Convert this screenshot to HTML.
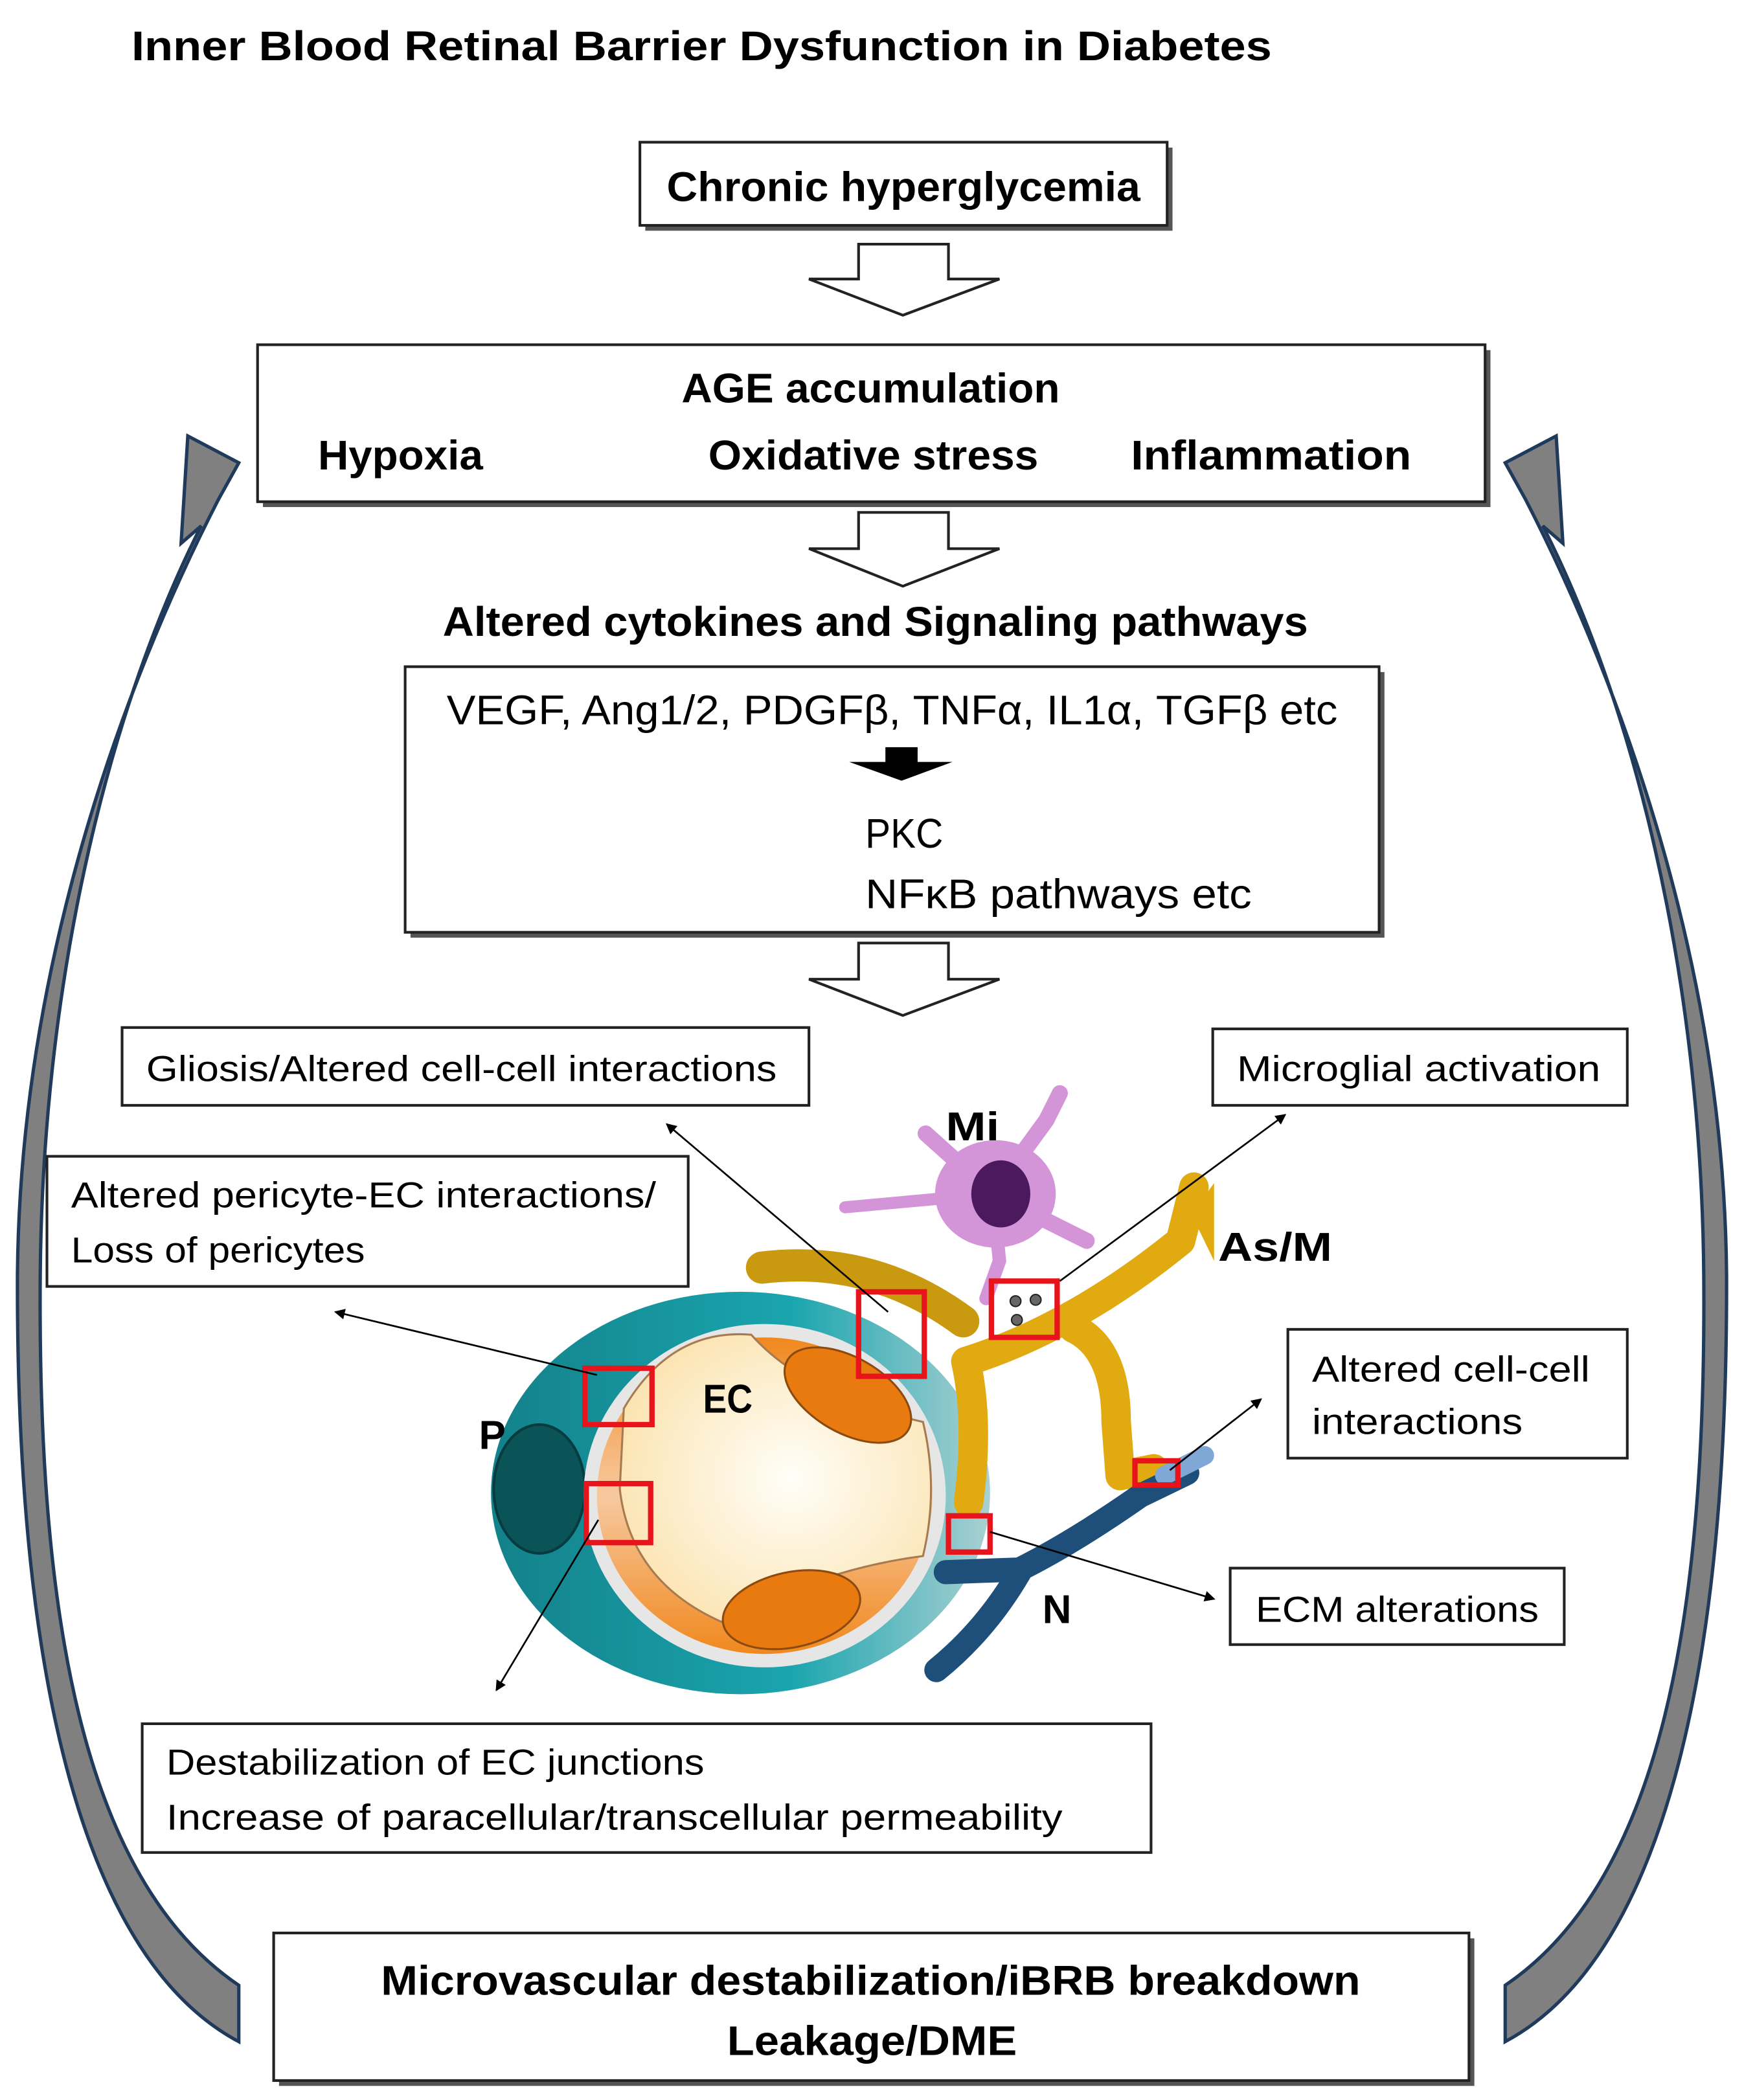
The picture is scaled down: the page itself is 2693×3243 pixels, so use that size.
<!DOCTYPE html>
<html><head><meta charset="utf-8"><style>
html,body{margin:0;padding:0;background:#fff;}
svg{display:block;}
text{font-family:"Liberation Sans",sans-serif;fill:#000;}
.b{font-weight:bold;}
</style></head><body>
<svg width="2693" height="3243" viewBox="0 0 1300 1565.5" xmlns="http://www.w3.org/2000/svg">
<defs>
<marker id="ah" markerWidth="8" markerHeight="8" refX="7" refY="4" orient="auto" markerUnits="userSpaceOnUse"><path d="M0,0 L8,4 L0,8 Z" fill="#000"/></marker>
<radialGradient id="cream" cx="0.55" cy="0.5" r="0.6"><stop offset="0" stop-color="#fffef8"/><stop offset="1" stop-color="#fbe3b0"/></radialGradient>
<linearGradient id="teal" x1="0" y1="0" x2="1" y2="0"><stop offset="0" stop-color="#13818a"/><stop offset="0.6" stop-color="#1aa5ae"/><stop offset="1" stop-color="#a9d0d2"/></linearGradient>
<linearGradient id="or" x1="0" y1="0" x2="0" y2="1"><stop offset="0" stop-color="#f0881e"/><stop offset="0.5" stop-color="#f7c9a0"/><stop offset="1" stop-color="#f0881e"/></linearGradient>
</defs>

<text class="b" x="98" y="45" font-size="31" textLength="850" lengthAdjust="spacingAndGlyphs">Inner Blood Retinal Barrier Dysfunction in Diabetes</text>

<!-- side arrows -->
<path d="M178,1480 C60,1400 28,1200 30,950 C32,720 85,520 150,392 L135,405 L140,325 L178,345 L163,372 C92,510 15,720 13,950 C12,1250 62,1460 178,1522 Z" fill="#808080" stroke="#1f3a5a" stroke-width="2.5"/>
<g transform="translate(1300,0) scale(-1,1)">
<path d="M178,1480 C60,1400 28,1200 30,950 C32,720 85,520 150,392 L135,405 L140,325 L178,345 L163,372 C92,510 15,720 13,950 C12,1250 62,1460 178,1522 Z" fill="#808080" stroke="#1f3a5a" stroke-width="2.5"/>
</g>

<!-- Chronic box -->
<rect x="481" y="110" width="393" height="62" fill="#555"/>
<rect x="477" y="106" width="393" height="62" fill="#fff" stroke="#222" stroke-width="2"/>
<text class="b" x="497" y="150" font-size="31" textLength="353" lengthAdjust="spacingAndGlyphs">Chronic hyperglycemia</text>

<g fill="#fff" stroke="#222" stroke-width="2">
<path d="M640,182 L707,182 L707,208 L745,208 L673,235 L603,208 L640,208 Z"/>
<path d="M640,382 L707,382 L707,409 L745,409 L673,437 L603,409 L640,409 Z"/>
<path d="M640,703 L707,703 L707,730 L745,730 L673,757 L603,730 L640,730 Z"/>
</g>

<rect x="196" y="261" width="915" height="117" fill="#555"/>
<rect x="192" y="257" width="915" height="117" fill="#fff" stroke="#222" stroke-width="2"/>
<text class="b" x="508" y="300" font-size="31" textLength="282" lengthAdjust="spacingAndGlyphs">AGE accumulation</text>
<text class="b" x="237" y="350" font-size="31" textLength="123" lengthAdjust="spacingAndGlyphs">Hypoxia</text>
<text class="b" x="528" y="350" font-size="31" textLength="246" lengthAdjust="spacingAndGlyphs">Oxidative stress</text>
<text class="b" x="843" y="350" font-size="31" textLength="209" lengthAdjust="spacingAndGlyphs">Inflammation</text>

<text class="b" x="330" y="474" font-size="31" textLength="645" lengthAdjust="spacingAndGlyphs">Altered cytokines and Signaling pathways</text>

<rect x="306" y="501" width="726" height="198" fill="#555"/>
<rect x="302" y="497" width="726" height="198" fill="#fff" stroke="#222" stroke-width="2"/>
<text x="333" y="540" font-size="31" textLength="664" lengthAdjust="spacingAndGlyphs">VEGF, Ang1/2, PDGFβ, TNFα, IL1α, TGFβ etc</text>
<path d="M660,557 L684,557 L684,568 L710,568 L672,582 L633,568 L660,568 Z" fill="#000"/>
<text x="645" y="632" font-size="31" textLength="58" lengthAdjust="spacingAndGlyphs">PKC</text>
<text x="645" y="677" font-size="31" textLength="288" lengthAdjust="spacingAndGlyphs">NFκB pathways etc</text>

<g fill="#fff" stroke="#222" stroke-width="2">
<rect x="91" y="766" width="512" height="58"/>
<rect x="904" y="767" width="309" height="57"/>
<rect x="35" y="862" width="478" height="97"/>
<rect x="960" y="991" width="253" height="96"/>
<rect x="917" y="1169" width="249" height="57"/>
<rect x="106" y="1285" width="752" height="96"/>
</g>
<g font-size="27">
<text x="109" y="806" textLength="470" lengthAdjust="spacingAndGlyphs">Gliosis/Altered cell-cell interactions</text>
<text x="922" y="806" textLength="271" lengthAdjust="spacingAndGlyphs">Microglial activation</text>
<text x="53" y="900" textLength="436" lengthAdjust="spacingAndGlyphs">Altered pericyte-EC interactions/</text>
<text x="53" y="941" textLength="219" lengthAdjust="spacingAndGlyphs">Loss of pericytes</text>
<text x="978" y="1030" textLength="207" lengthAdjust="spacingAndGlyphs">Altered cell-cell</text>
<text x="978" y="1069" textLength="157" lengthAdjust="spacingAndGlyphs">interactions</text>
<text x="936" y="1209" textLength="211" lengthAdjust="spacingAndGlyphs">ECM alterations</text>
<text x="124" y="1323" textLength="401" lengthAdjust="spacingAndGlyphs">Destabilization of EC junctions</text>
<text x="124" y="1364" textLength="668" lengthAdjust="spacingAndGlyphs">Increase of paracellular/transcellular permeability</text>
</g>

<!-- vessel drawing -->
<path d="M568,945 Q650,935 718,985" stroke="#c99a10" stroke-width="24" fill="none" stroke-linecap="round"/>
<ellipse cx="552" cy="1113" rx="186" ry="150" fill="url(#teal)"/>
<ellipse cx="402" cy="1110" rx="34" ry="48" fill="#0a5458" stroke="#063c40" stroke-width="2"/>
<ellipse cx="570" cy="1115" rx="135" ry="128" fill="#e6e6e6"/>
<ellipse cx="570" cy="1115" rx="125" ry="118" fill="url(#or)"/>
<path d="M465,1050 Q500,990 560,995 Q600,1040 688,1060 Q700,1110 688,1160 Q610,1170 540,1210 Q470,1180 462,1110 Z" fill="url(#cream)" stroke="#a87a50" stroke-width="1.5"/>
<ellipse cx="632" cy="1040" rx="52" ry="28" transform="rotate(30 632 1040)" fill="#e87a10" stroke="#8a4a10" stroke-width="1.5"/>
<ellipse cx="590" cy="1200" rx="52" ry="28" transform="rotate(-12 590 1200)" fill="#e87a10" stroke="#8a4a10" stroke-width="1.5"/>
<g stroke="#e0aa10" stroke-width="22" fill="none" stroke-linecap="round" stroke-linejoin="round">
<path d="M720,1015 Q730,1060 722,1120"/>
<path d="M720,1015 Q800,990 880,925 L890,885"/>
<path d="M800,990 Q832,1005 832,1060 L835,1100 L860,1095"/>
</g>
<path d="M888,905 L905,882 L905,940 Z" fill="#e0aa10"/>
<g stroke="#1d4f7a" stroke-width="18" fill="none" stroke-linecap="round" stroke-linejoin="round">
<path d="M705,1172 L760,1170 Q800,1150 850,1115 L885,1098"/>
<path d="M760,1172 Q735,1215 698,1245"/>
</g>
<path d="M868,1100 L898,1085" stroke="#7fa8d6" stroke-width="14" stroke-linecap="round"/>
<g stroke="#d494d8" stroke-linecap="round" fill="none">
<path d="M740,890 L630,900" stroke-width="9"/>
<path d="M740,890 L690,845" stroke-width="12"/>
<path d="M740,890 L780,835 L790,815" stroke-width="12"/>
<path d="M740,890 L810,925" stroke-width="12"/>
<path d="M740,890 L745,940 L735,968" stroke-width="10"/>
</g>
<ellipse cx="742" cy="890" rx="45" ry="40" fill="#d494d8"/>
<ellipse cx="746" cy="890" rx="22" ry="25" fill="#4b1a5e"/>
<g fill="none" stroke="#e8141c" stroke-width="4">
<rect x="640" y="963" width="49" height="63"/>
<rect x="436" y="1020" width="50" height="42"/>
<rect x="437" y="1106" width="48" height="44"/>
<rect x="739" y="955" width="49" height="42"/>
<rect x="707" y="1130" width="31" height="27"/>
<rect x="846" y="1089" width="32" height="18"/>
</g>
<g fill="#666" stroke="#222" stroke-width="1"><circle cx="757" cy="970" r="4"/><circle cx="772" cy="969" r="4"/><circle cx="758" cy="984" r="4"/></g>
<g stroke="#000" stroke-width="1.3" marker-end="url(#ah)">
<line x1="662" y1="978" x2="497" y2="838"/>
<line x1="445" y1="1025" x2="250" y2="978"/>
<line x1="790" y1="955" x2="958" y2="831"/>
<line x1="872" y1="1096" x2="940" y2="1043"/>
<line x1="738" y1="1142" x2="905" y2="1192"/>
<line x1="446" y1="1133" x2="370" y2="1260"/>
</g>
<g font-size="30">
<text class="b" x="705" y="850" textLength="40" lengthAdjust="spacingAndGlyphs">Mi</text>
<text class="b" x="908" y="940" textLength="85" lengthAdjust="spacingAndGlyphs">As/M</text>
<text class="b" x="524" y="1053" textLength="37" lengthAdjust="spacingAndGlyphs">EC</text>
<text class="b" x="357" y="1080">P</text>
<text class="b" x="777" y="1210">N</text>
</g>

<rect x="208" y="1445" width="891" height="110" fill="#555"/>
<rect x="204" y="1441" width="891" height="110" fill="#fff" stroke="#222" stroke-width="2"/>
<text class="b" x="284" y="1487" font-size="31" textLength="730" lengthAdjust="spacingAndGlyphs">Microvascular destabilization/iBRB breakdown</text>
<text class="b" x="542" y="1532" font-size="31" textLength="216" lengthAdjust="spacingAndGlyphs">Leakage/DME</text>
</svg>
</body></html>
